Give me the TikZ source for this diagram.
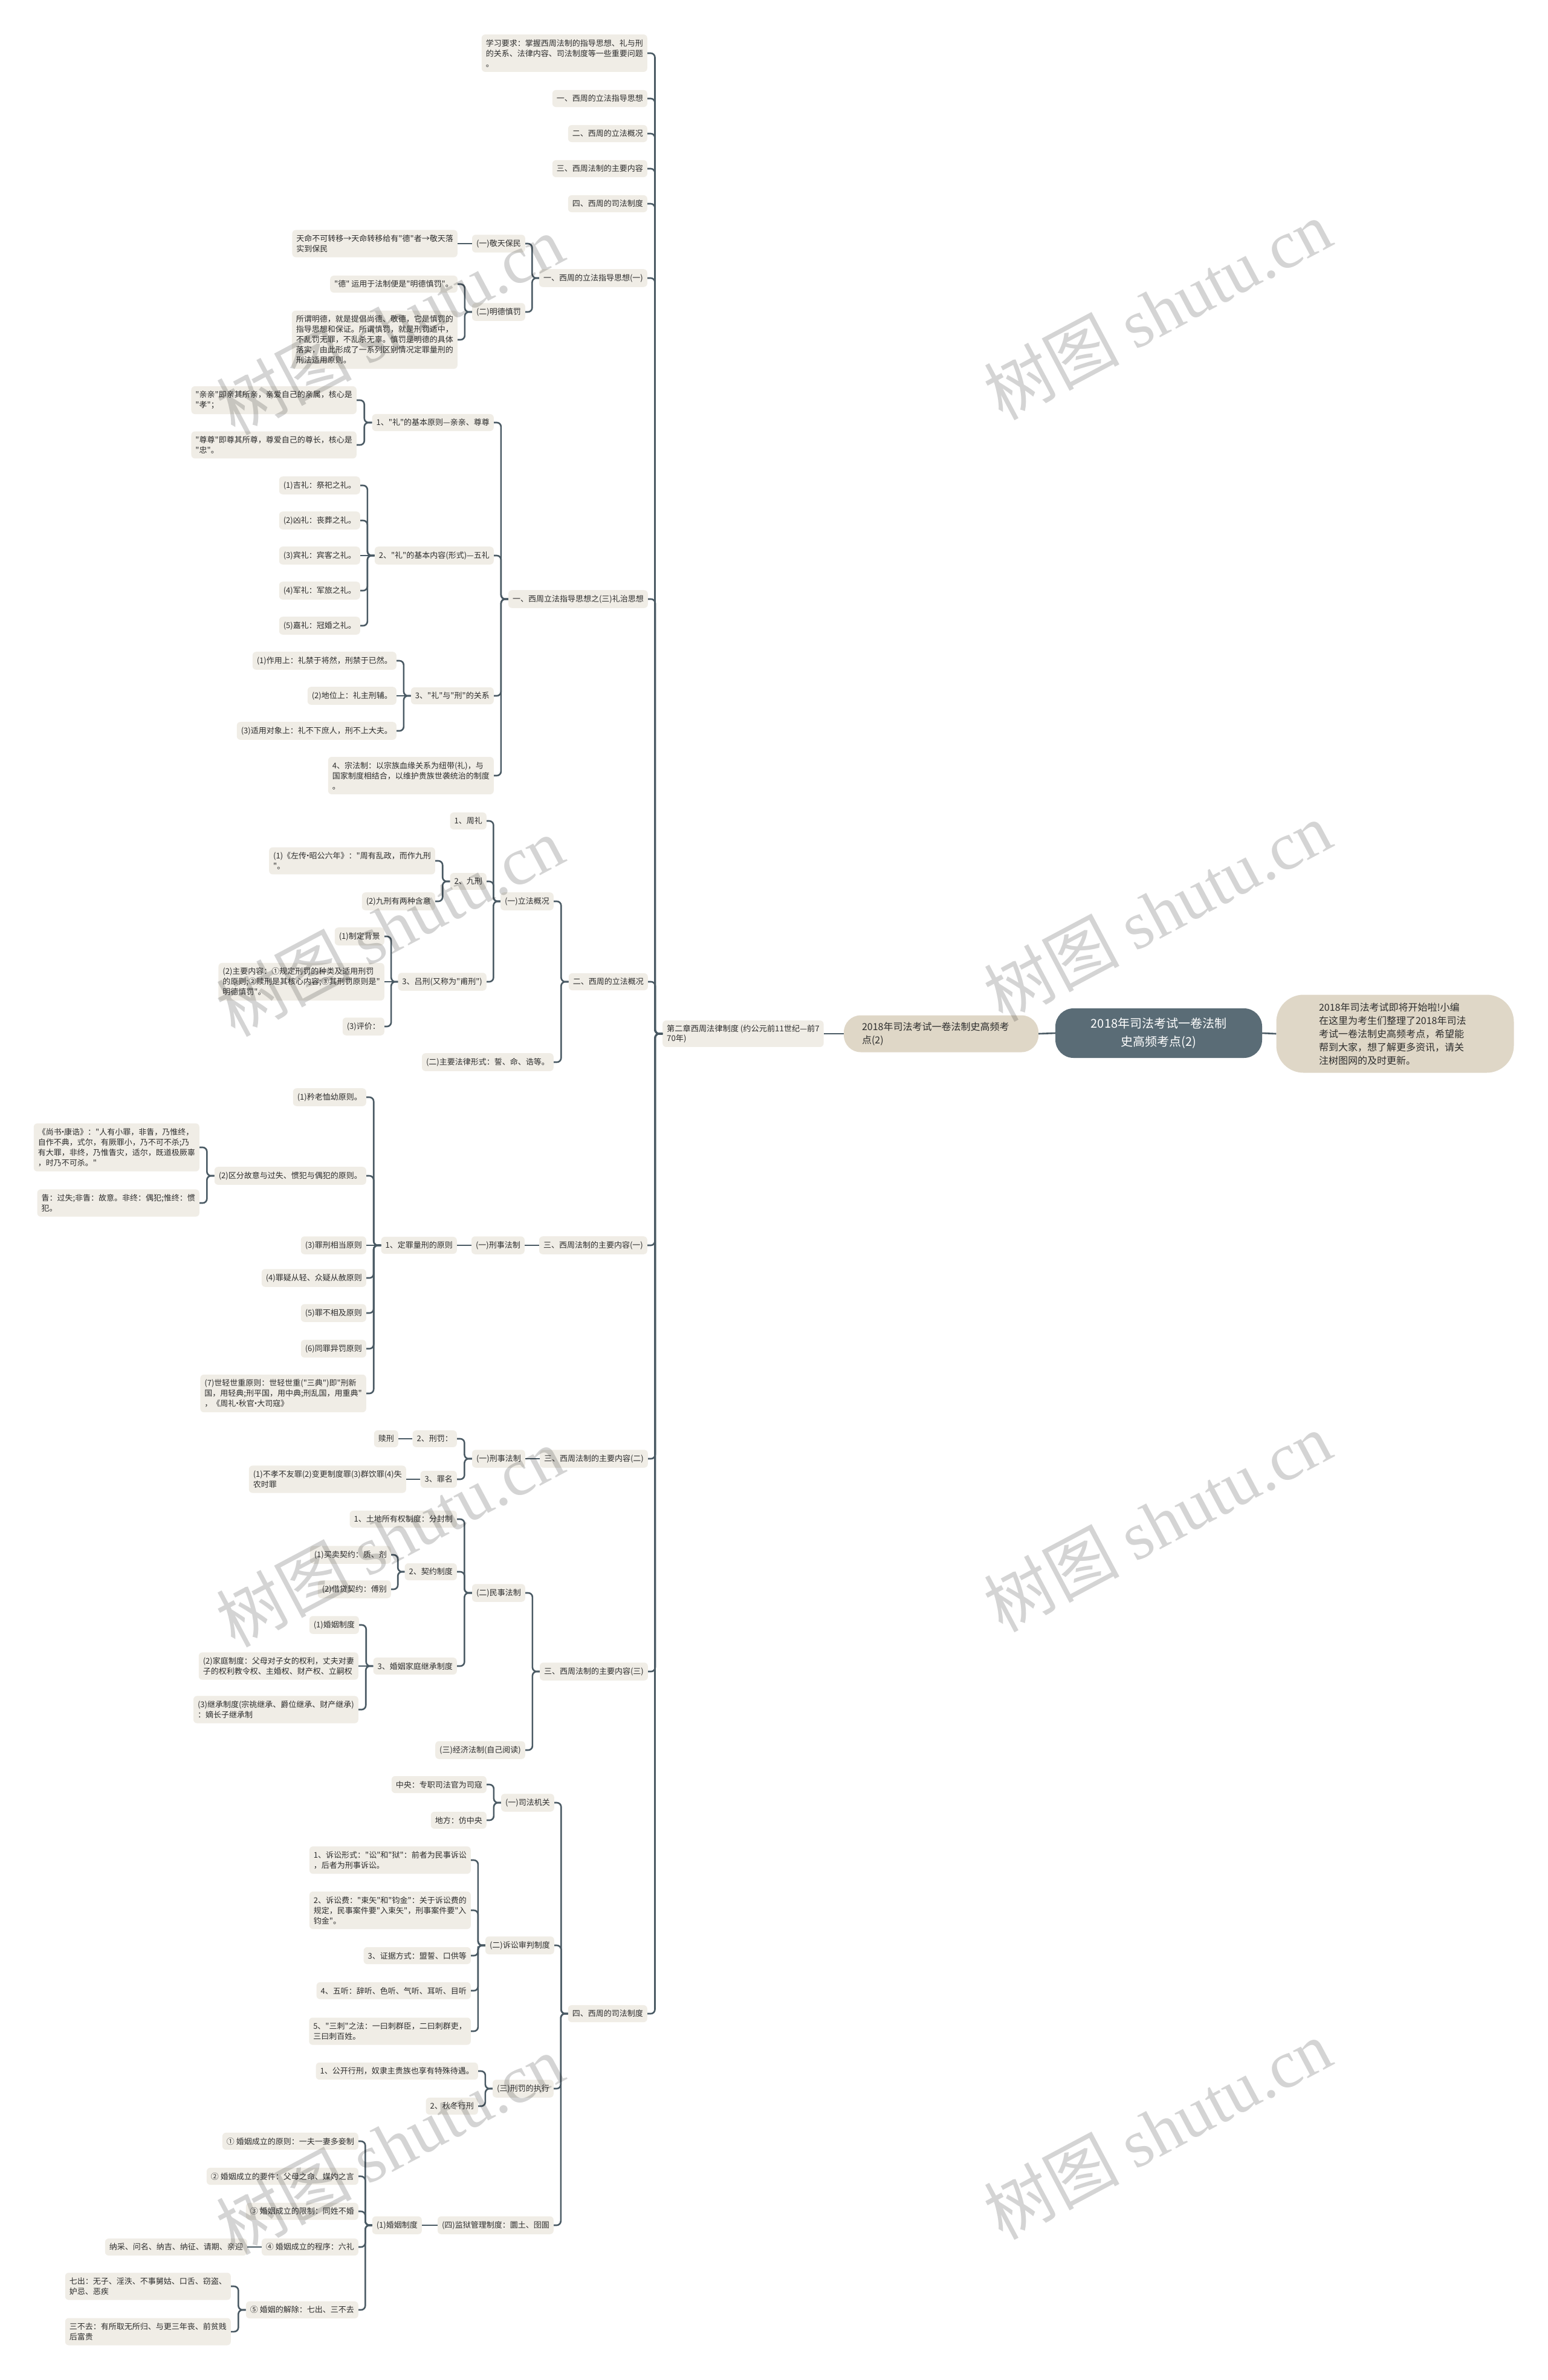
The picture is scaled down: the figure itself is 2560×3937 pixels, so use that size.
\documentclass[tikz,border=0pt]{standalone}
\usepackage{fontspec}
\setmainfont{Noto Sans CJK SC}
\newfontfamily\cjkf{Noto Sans CJK SC}
\newfontfamily\wmlat{Liberation Serif}
\usetikzlibrary{calc}
\definecolor{nodefill}{RGB}{240,237,230}
\definecolor{lonefill}{RGB}{223,215,199}
\definecolor{rootfill}{RGB}{90,108,118}
\definecolor{linecol}{RGB}{74,90,100}
\definecolor{txtcol}{RGB}{45,45,45}
\newcommand\fsz[2]{\cjkf\fontsize{#1}{#2}\selectfont}
\newcommand\mdt{{\kern-0.33em·\kern-0.33em}}
\newcommand\lk[2]{\draw[conn] (#1.west) -| ($(#1.west)!0.5!(#2.east)$) |- (#2.east);}
\newcommand\lks[2]{\draw[conn] (#1.west) -- (#2.east);}
\tikzset{
 box/.style={fill=nodefill, rounded corners=6pt, inner xsep=7pt, inner ysep=8pt, align=left, font=\fsz{13}{17}, text=txtcol, anchor=east},
 conn/.style={draw=linecol, line width=2.6pt, rounded corners=7pt},
 rootbox/.style={fill=rootfill, text=white, rounded corners=30pt, minimum width=342pt, minimum height=82pt, align=center, font=\fsz{20}{30}, inner sep=4pt},
 lonebox/.style={fill=lonefill, text=txtcol, rounded corners=28pt, text width=262pt, inner xsep=30pt, minimum height=61pt, align=left, font=\fsz{16}{22}},
 notebox/.style={fill=lonefill, text=txtcol, rounded corners=45pt, text width=252pt, inner xsep=70.5pt, minimum height=129pt, align=left, font=\fsz{16}{22}},
 wm/.style={rotate=28, text=black, opacity=0.17, font=\fsz{112}{112}, inner sep=0pt},
}
\begin{document}
\begin{tikzpicture}[x=1pt,y=-1pt]
\useasboundingbox (0,0) rectangle (2560,3937);
\fill[white] (0,0) rectangle (2560,3937);

% ---- root chain
\node[rootbox] (root) at (1917,1709) {2018年司法考试一卷法制\\史高频考点(2)};
\node[lonebox] (lone) at (1557,1710) {2018年司法考试一卷法制史高频考\\点(2)};
\node[notebox] (note) at (2308,1710) {2018年司法考试即将开始啦!小编\\在这里为考生们整理了2018年司法\\考试一卷法制史高频考点，希望能\\帮到大家，想了解更多资讯，请关\\注树图网的及时更新。};
\node[box, anchor=west, font=\fsz{13.2}{16}, inner ysep=7pt] (ch) at (1096,1710) {第二章西周法律制度 (约公元前11世纪—前7\\70年)};
\draw[conn] (root.east) -- (note.west);
\draw[conn] (root.west) -- (lone.east);
\draw[conn] (lone.west) -- (ch.east);

% ---- top level children
\node[box] (n1) at (1071,88) {学习要求：掌握西周法制的指导思想、礼与刑\\的关系、法律内容、司法制度等一些重要问题\\。};
\node[box] (n2) at (1071,163) {一、西周的立法指导思想};
\node[box] (n3) at (1071,221) {二、西周的立法概况};
\node[box] (n4) at (1071,279) {三、西周法制的主要内容};
\node[box] (n5) at (1071,337) {四、西周的司法制度};
\node[box] (n6) at (1071,460) {一、西周的立法指导思想(一)};
\node[box] (n7) at (1072,991) {一、西周立法指导思想之(三)礼治思想};
\node[box] (n8) at (1072,1624) {二、西周的立法概况};
\node[box] (n9) at (1071,2060) {三、西周法制的主要内容(一)};
\node[box] (n10) at (1072,2413) {三、西周法制的主要内容(二)};
\node[box] (n11) at (1072,2765) {三、西周法制的主要内容(三)};
\node[box] (n12) at (1071,3331) {四、西周的司法制度};
\foreach \c in {n1,n2,n3,n4,n5,n6,n7,n8,n9,n10,n11,n12} {\lk{ch}{\c}}

% ---- n6
\node[box] (n6a) at (869,403) {(一)敬天保民};
\node[box] (n6a1) at (757,403) {天命不可转移→天命转移给有"德"者→敬天落\\实到保民};
\node[box] (n6b) at (869,516) {(二)明德慎罚};
\node[box] (n6b1) at (757,470) {"德" 运用于法制便是"明德慎罚"。};
\node[box] (n6b2) at (757,562) {所谓明德，就是提倡尚德、敬德，它是慎罚的\\指导思想和保证。所谓慎罚，就是刑罚适中，\\不乱罚无罪，不乱杀无辜。慎罚是明德的具体\\落实，由此形成了一系列区别情况定罪量刑的\\刑法适用原则。};
\lk{n6}{n6a} \lk{n6}{n6b} \lks{n6a}{n6a1} \lk{n6b}{n6b1} \lk{n6b}{n6b2}

% ---- n7
\node[box] (n7a) at (817,699) {1、"礼"的基本原则—亲亲、尊尊};
\node[box] (n7a1) at (590,662) {"亲亲"即亲其所亲，亲爱自己的亲属，核心是\\"孝"；};
\node[box] (n7a2) at (590,736) {"尊尊"即尊其所尊，尊爱自己的尊长，核心是\\"忠"。};
\node[box] (n7b) at (817,919) {2、"礼"的基本内容(形式)—五礼};
\node[box] (n7b1) at (596,803) {(1)吉礼：祭祀之礼。};
\node[box] (n7b2) at (596,861) {(2)凶礼：丧葬之礼。};
\node[box] (n7b3) at (596,919) {(3)宾礼：宾客之礼。};
\node[box] (n7b4) at (596,977) {(4)军礼：军旅之礼。};
\node[box] (n7b5) at (596,1035) {(5)嘉礼：冠婚之礼。};
\node[box] (n7c) at (817,1151) {3、"礼"与"刑"的关系};
\node[box] (n7c1) at (656,1093) {(1)作用上：礼禁于将然，刑禁于已然。};
\node[box] (n7c2) at (656,1151) {(2)地位上：礼主刑辅。};
\node[box] (n7c3) at (656,1209) {(3)适用对象上：礼不下庶人，刑不上大夫。};
\node[box] (n7d) at (817,1283) {4、宗法制：以宗族血缘关系为纽带(礼)，与\\国家制度相结合，以维护贵族世袭统治的制度\\。};
\foreach \c in {n7a,n7b,n7c,n7d} {\lk{n7}{\c}}
\lk{n7a}{n7a1} \lk{n7a}{n7a2}
\foreach \c in {n7b1,n7b2,n7b4,n7b5} {\lk{n7b}{\c}}
\lks{n7b}{n7b3}
\lk{n7c}{n7c1} \lks{n7c}{n7c2} \lk{n7c}{n7c3}

% ---- n8
\node[box] (n8a) at (916,1491) {(一)立法概况};
\node[box] (n8a1) at (805,1358) {1、周礼};
\node[box] (n8a2) at (805,1458) {2、九刑};
\node[box] (n8a2a) at (720,1424) {(1)《左传\mdt 昭公六年》："周有乱政，而作九刑\\"。};
\node[box] (n8a2b) at (720,1491) {(2)九刑有两种含意};
\node[box] (n8a3) at (805,1624) {3、吕刑(又称为"甫刑")};
\node[box] (n8a3a) at (636,1549) {(1)制定背景};
\node[box] (n8a3b) at (636,1624) {(2)主要内容：①规定刑罚的种类及适用刑罚\\的原则;②赎刑是其核心内容;③其刑罚原则是"\\明德慎罚"。};
\node[box] (n8a3c) at (636,1698) {(3)评价：};
\node[box] (n8b) at (916,1757) {(二)主要法律形式：誓、命、诰等。};
\lk{n8}{n8a} \lk{n8}{n8b}
\lk{n8a}{n8a1} \lk{n8a}{n8a2} \lk{n8a}{n8a3}
\lk{n8a2}{n8a2a} \lk{n8a2}{n8a2b}
\lk{n8a3}{n8a3a} \lks{n8a3}{n8a3b} \lk{n8a3}{n8a3c}

% ---- n9
\node[box] (n9a) at (868,2060) {(一)刑事法制};
\node[box] (n9a1) at (756,2060) {1、定罪量刑的原则};
\node[box] (c1) at (606,1815) {(1)矜老恤幼原则。};
\node[box] (c2) at (606,1945) {(2)区分故意与过失、惯犯与偶犯的原则。};
\node[box] (c2a) at (330,1898) {《尚书\mdt 康诰》："人有小罪，非眚，乃惟终，\\自作不典，式尔，有厥罪小，乃不可不杀;乃\\有大罪，非终，乃惟眚灾，适尔，既道极厥辜\\，时乃不可杀。"};
\node[box] (c2b) at (330,1990) {眚：过失;非眚：故意。非终：偶犯;惟终：惯\\犯。};
\node[box] (c3) at (606,2060) {(3)罪刑相当原则};
\node[box] (c4) at (606,2114) {(4)罪疑从轻、众疑从赦原则};
\node[box] (c5) at (606,2172) {(5)罪不相及原则};
\node[box] (c6) at (606,2231) {(6)同罪异罚原则};
\node[box] (c7) at (606,2305) {(7)世轻世重原则：世轻世重("三典")即"刑新\\国，用轻典;刑平国，用中典;刑乱国，用重典"\\，《周礼\mdt 秋官\mdt 大司寇》};
\lks{n9}{n9a} \lks{n9a}{n9a1}
\foreach \c in {c1,c2,c4,c5,c6,c7} {\lk{n9a1}{\c}}
\lks{n9a1}{c3}
\lk{c2}{c2a} \lk{c2}{c2b}

% ---- n10
\node[box] (n10a) at (869,2413) {(一)刑事法制};
\node[box] (n10a1) at (756,2380) {2、刑罚：};
\node[box] (n10a1a) at (659,2380) {赎刑};
\node[box] (n10a2) at (756,2447) {3、罪名};
\node[box] (n10a2a) at (672,2447) {(1)不孝不友罪(2)变更制度罪(3)群饮罪(4)失\\农时罪};
\lks{n10}{n10a} \lk{n10a}{n10a1} \lk{n10a}{n10a2}
\lks{n10a1}{n10a1a} \lks{n10a2}{n10a2a}

% ---- n11
\node[box] (n11a) at (869,2635) {(二)民事法制};
\node[box] (n11a1) at (756,2513) {1、土地所有权制度：分封制};
\node[box] (n11a2) at (756,2600) {2、契约制度};
\node[box] (n11a2a) at (647,2572) {(1)买卖契约：质、剂};
\node[box] (n11a2b) at (647,2629) {(2)借贷契约：傅别};
\node[box] (n11a3) at (756,2756) {3、婚姻家庭继承制度};
\node[box] (n11a3a) at (594,2688) {(1)婚姻制度};
\node[box] (n11a3b) at (593,2756) {(2)家庭制度：父母对子女的权利，丈夫对妻\\子的权利教令权、主婚权、财产权、立嗣权};
\node[box] (n11a3c) at (593,2828) {(3)继承制度(宗祧继承、爵位继承、财产继承)\\：嫡长子继承制};
\node[box] (n11b) at (869,2895) {(三)经济法制(自己阅读)};
\lk{n11}{n11a} \lk{n11}{n11b}
\lk{n11a}{n11a1} \lk{n11a}{n11a2} \lk{n11a}{n11a3}
\lk{n11a2}{n11a2a} \lk{n11a2}{n11a2b}
\lk{n11a3}{n11a3a} \lks{n11a3}{n11a3b} \lk{n11a3}{n11a3c}

% ---- n12
\node[box] (n12a) at (917,2982) {(一)司法机关};
\node[box] (n12a1) at (805,2952) {中央：专职司法官为司寇};
\node[box] (n12a2) at (805,3011) {地方：仿中央};
\node[box] (n12b) at (917,3218) {(二)诉讼审判制度};
\node[box] (n12b1) at (779,3077) {1、诉讼形式："讼"和"狱"：前者为民事诉讼\\，后者为刑事诉讼。};
\node[box] (n12b2) at (779,3160) {2、诉讼费："束矢"和"钧金"：关于诉讼费的\\规定，民事案件要"入束矢"，刑事案件要"入\\钧金"。};
\node[box] (n12b3) at (779,3235) {3、证据方式：盟誓、口供等};
\node[box] (n12b4) at (779,3293) {4、五听：辞听、色听、气听、耳听、目听};
\node[box] (n12b5) at (779,3360) {5、"三刺"之法：一曰刺群臣，二曰刺群吏，\\三曰刺百姓。};
\node[box] (n12c) at (916,3455) {(三)刑罚的执行};
\node[box] (n12c1) at (791,3426) {1、公开行刑，奴隶主贵族也享有特殊待遇。};
\node[box] (n12c2) at (791,3484) {2、秋冬行刑};
\node[box] (n12d) at (916,3681) {(四)监狱管理制度：圜土、囹圄};
\node[box] (n12d1) at (698,3681) {(1)婚姻制度};
\node[box] (m1) at (593,3542) {① 婚姻成立的原则：一夫一妻多妾制};
\node[box] (m2) at (593,3600) {② 婚姻成立的要件：父母之命、媒妁之言};
\node[box] (m3) at (593,3658) {③ 婚姻成立的限制：同姓不婚};
\node[box] (m4) at (593,3717) {④ 婚姻成立的程序：六礼};
\node[box] (m4a) at (409,3717) {纳采、问名、纳吉、纳征、请期、亲迎};
\node[box] (m5) at (593,3821) {⑤ 婚姻的解除：七出、三不去};
\node[box] (m5a) at (382,3782) {七出：无子、淫泆、不事舅姑、口舌、窃盗、\\妒忌、恶疾};
\node[box] (m5b) at (382,3857) {三不去：有所取无所归、与更三年丧、前贫贱\\后富贵};
\foreach \c in {n12a,n12b,n12c,n12d} {\lk{n12}{\c}}
\lk{n12a}{n12a1} \lk{n12a}{n12a2}
\foreach \c in {n12b1,n12b2,n12b3,n12b4,n12b5} {\lk{n12b}{\c}}
\lk{n12c}{n12c1} \lk{n12c}{n12c2}
\lks{n12d}{n12d1}
\foreach \c in {m1,m2,m3,m4,m5} {\lk{n12d1}{\c}}
\lks{m4}{m4a} \lk{m5}{m5a} \lk{m5}{m5b}

% ---- watermarks
\foreach \wx/\wy [count=\i] in {1915/512, 1915/1507, 1915/2517, 1915/3522, 645/537, 645/1532, 645/2542, 645/3547} {
  \node[wm] (wm\i) at (\wx,\wy) {树图 {\wmlat shutu.cn}};
}
\end{tikzpicture}
\end{document}
